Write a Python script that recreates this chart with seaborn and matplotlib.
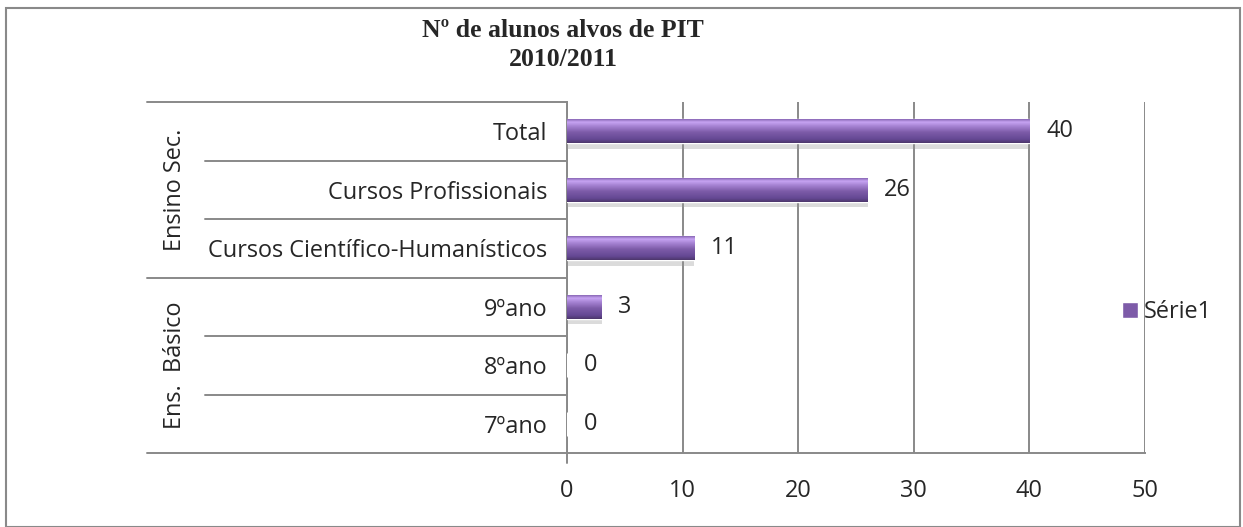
import numpy as np
import pandas as pd
import matplotlib
matplotlib.use("Agg")
import matplotlib.pyplot as plt
import matplotlib.transforms as mtransforms
import matplotlib.patheffects as pe
from matplotlib.colors import LinearSegmentedColormap
from matplotlib.patches import Patch, Rectangle
import seaborn as sns

# Datos del gráfico
categorias = ["Total", "Cursos Profissionais", "Cursos Científico-Humanísticos",
              "9ºano", "8ºano", "7ºano"]
valores = [40, 26, 11, 3, 0, 0]
grupos = ["Ensino Sec.", "Ens.  Básico"]
grupo_tamanho = [3, 3]
serie = "Série1"
titulo = "Nº de alunos alvos de PIT\n2010/2011"
xticks = [0, 10, 20, 30, 40, 50]

df = pd.DataFrame({"categoria": categorias, "valor": valores})

sns.set_theme(style="white")
plt.rcParams["font.family"] = ["Open Sans", "DejaVu Sans"]

W, H = 1243, 527
fig = plt.figure(figsize=(W / 100, H / 100), dpi=100)
ax = fig.add_axes([567 / W, 1 - 453 / H, (1145 - 567) / W, (453 - 102) / H])

cinza = "#898989"
roxo = "#7d5ba8"
fs = 16.9

sns.barplot(data=df, x="valor", y="categoria", orient="h", color=roxo,
            width=0.41, saturation=1, ax=ax, zorder=3)

ax.set_xlim(0, 50)
ax.set_ylim(len(categorias) - 0.5, -0.5)
ax.set_xticks(xticks)
ax.set_xlabel("")
ax.set_ylabel("")
ax.grid(axis="x", color=cinza, linewidth=1.4)
ax.grid(axis="y", visible=False)
for s in ["top", "right"]:
    ax.spines[s].set_visible(False)
for s in ["left", "bottom"]:
    ax.spines[s].set_color(cinza)
    ax.spines[s].set_linewidth(1.4)
ax.tick_params(axis="x", length=0, pad=19, labelsize=fs)
ax.tick_params(axis="y", length=0, pad=14, labelsize=fs)

# gradiente nas barras
cmap = LinearSegmentedColormap.from_list(
    "barra", [(0.0, "#8a68b6"), (0.12, "#c6a3f2"), (0.3, "#a582d2"),
              (0.55, "#7d5ba8"), (0.85, "#644893"), (1.0, "#4d376c")])
grad = np.linspace(0, 1, 64).reshape(-1, 1)
xl, yl = ax.get_xlim(), ax.get_ylim()
for p in ax.patches:
    p.set_path_effects([pe.SimplePatchShadow(offset=(0, -4), shadow_rgbFace="#999999", alpha=0.35),
                        pe.Normal()])
    if p.get_width() > 0:
        y0 = p.get_y()
        im = ax.imshow(grad, cmap=cmap, aspect="auto", origin="upper",
                       extent=(p.get_x(), p.get_x() + p.get_width(), y0 + p.get_height(), y0),
                       zorder=4)
        im.set_clip_path(p)
ax.set_xlim(xl)
ax.set_ylim(yl)

# rótulos de valores
ax.bar_label(ax.containers[0], labels=[str(v) for v in valores], padding=12,
             fontsize=fs, zorder=5)

# linhas de separação das categorias e grupos
trans = mtransforms.blended_transform_factory(fig.transFigure, ax.transData)
limites = np.cumsum([0] + grupo_tamanho) - 0.5
for i in range(len(categorias) + 1):
    yb = i - 0.5
    x_ini = 147 / W if yb in limites else 205 / W
    ax.plot([x_ini, 567 / W], [yb, yb], color=cinza, lw=1.4, transform=trans,
            clip_on=False, zorder=1)
ax.plot([0, 0], [len(categorias) - 0.5, len(categorias) - 0.33], color=cinza, lw=1.4,
        clip_on=False)

# rótulos dos grupos
for nome, a, b in zip(grupos, limites[:-1], limites[1:]):
    ax.text(175 / W, (a + b) / 2, nome, rotation=90, ha="center", va="center",
            fontsize=fs, transform=trans)

# título
fig.text(563 / W, 1 - 45 / H, titulo, ha="center", va="center", fontsize=18.5,
         fontweight="bold", family="Liberation Serif", linespacing=1.3)

# legenda
fig.legend(handles=[Patch(facecolor=roxo)], labels=[serie], loc="center left",
           bbox_to_anchor=(1122 / W, 1 - 312 / H), frameon=False, fontsize=fs,
           handlelength=0.7, handleheight=0.7, handletextpad=0.25,
           borderaxespad=0, borderpad=0)

# moldura exterior
fig.patches.append(Rectangle((6 / W, 0), 1234 / W, 1 - 8 / H, transform=fig.transFigure,
                             fill=False, edgecolor=cinza, lw=1.5))

fig.savefig("out.png", dpi=100)
